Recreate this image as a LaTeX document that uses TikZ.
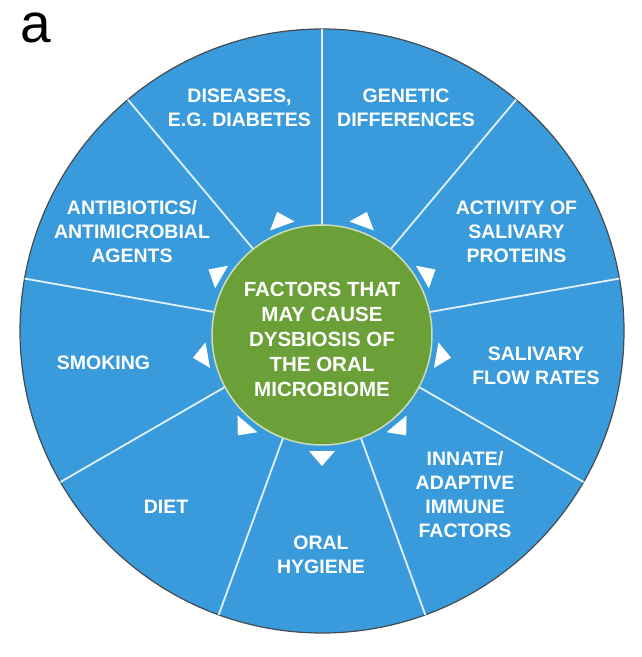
\documentclass[tikz,border=0pt]{standalone}
\usepackage{fontspec}
\setmainfont{Liberation Sans}
\usepackage{tikz}
\usetikzlibrary{positioning}
\definecolor{wheelblue}{RGB}{58,155,220}
\definecolor{coregreen}{RGB}{107,159,56}
\definecolor{rimgrey}{RGB}{70,75,80}

\begin{document}
\begin{tikzpicture}[
    x=1pt, y=1pt,
    factor/.style={text=white, font=\bfseries\fontsize{19.5}{24}\selectfont, align=center},
    core/.style={circle, fill=coregreen, draw=coregreen!35!white, line width=1.5pt, minimum size=220pt, inner sep=0pt, text=white, font=\bfseries\fontsize{20.5}{25}\selectfont, align=center},
    spoke/.style={draw=white!85!wheelblue, line width=1.8pt},
    pointer/.style={fill=white}
  ]
    \useasboundingbox (-322,-326) rectangle (320,331);
    \node[font=\fontsize{55}{55}\selectfont, inner sep=0pt] (panel) at (-286.5,303) {a};

    % wheel and its nine spokes
    \fill[wheelblue, draw=rimgrey, line width=1.2pt] (0,0) circle (302);
    \foreach \a in {90,50,10,-30,-70,-110,-150,170,130}
      \draw[spoke] (0,0) -- (\a:302);

    % outward pointers round the core
    \foreach \a in {110,70,30,-10,-50,-90,-130,190,150}
      \fill[pointer, shift={(0,-4)}, rotate=\a] (116,-13) -- (131,0) -- (116,13) -- cycle;

    \node[core] (core) at (0,-4) {\rule{0pt}{24pt}FACTORS THAT\\MAY CAUSE\\DYSBIOSIS OF\\THE ORAL\\MICROBIOME};

    \node[factor] (disease) at (-82.5,223.5) {DISEASES,\\E.G. DIABETES};
    \node[factor] (genetic) at (84,223.5) {GENETIC\\DIFFERENCES};
    \node[factor] (protein) at (194.5,99) {ACTIVITY OF\\SALIVARY\\PROTEINS};
    \node[factor] (flow) at (214,-35) {SALIVARY\\FLOW RATES};
    \node[factor] (immune) at (143,-164) {INNATE/\\ADAPTIVE\\IMMUNE\\FACTORS};
    \node[factor] (hygiene) at (-1,-224) {ORAL\\HYGIENE};
    \node[factor] (diet) at (-156,-176) {DIET};
    \node[factor] (smoking) at (-218.5,-32) {SMOKING};
    \node[factor] (antibio) at (-190,99) {ANTIBIOTICS/\\ANTIMICROBIAL\\AGENTS};
\end{tikzpicture}
\end{document}
